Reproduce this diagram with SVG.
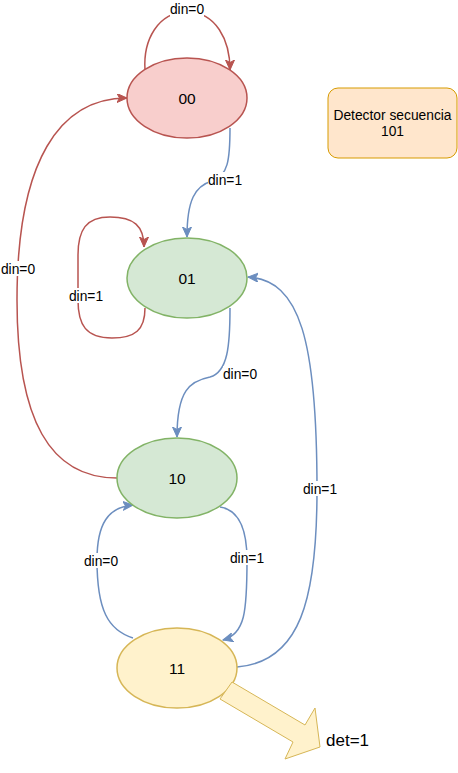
<svg xmlns="http://www.w3.org/2000/svg" width="458" height="773" viewBox="0 0 458 773">
<defs>
<style>
.e{fill:none;stroke-width:1.5}
.red{stroke:#b85450}
.blue{stroke:#6c8ebf}
.lbl{font-family:"Liberation Sans",Arial,sans-serif;font-size:13.8px;fill:#000;text-anchor:middle}
.nl{font-family:"Liberation Sans",Arial,sans-serif;font-size:15.5px;fill:#000;text-anchor:middle}
.bg{fill:#fff}
</style>
<marker id="ar" markerUnits="userSpaceOnUse" markerWidth="12" markerHeight="12" refX="10" refY="4.5" orient="auto"><path d="M0,0 L10,4.5 L0,9 L2.5,4.5 Z" fill="#b85450" stroke="#b85450" stroke-width="1"/></marker>
<marker id="ab" markerUnits="userSpaceOnUse" markerWidth="12" markerHeight="12" refX="10" refY="4.5" orient="auto"><path d="M0,0 L10,4.5 L0,9 L2.5,4.5 Z" fill="#6c8ebf" stroke="#6c8ebf" stroke-width="1"/></marker>
</defs>
<rect width="458" height="773" fill="#fff"/>
<g id="connectors">
<path class="e red" marker-end="url(#ar)" d="M145,70 C143,40 158,12 187,12 C216,12 230,40 230,70"/>
<path class="e blue" marker-end="url(#ab)" d="M230,128 C230,160 228,176 212,181 C195,186 187,200 187,237"/>
<path class="e red" marker-end="url(#ar)" d="M145,308 C145,330 135,338 112,338 C86,338 78,325 78,300 L78,255 C78,230 86,217 110,217 C134,217 144,226 144,247"/>
<path class="e red" marker-end="url(#ar)" d="M117,478 C50,478 17,420 17,300 C17,160 60,98 127,98"/>
<path class="e blue" marker-end="url(#ab)" d="M230,308 C230,345 228,372 210,377 C190,381 177,390 177,437"/>
<path class="e blue" marker-end="url(#ab)" d="M220,507 C240,510 247,530 247,560 C247,612 245,634 223,640"/>
<path class="e blue" marker-end="url(#ab)" d="M133,638 C108,630 97,610 97,560 C97,524 108,507 133,505"/>
<path class="e blue" marker-end="url(#ab)" d="M237,667 C300,662 317,600 317,490 C317,340 300,280 248,277"/>
</g>
<g id="labels">
<rect class="bg" x="170" y="2" width="34" height="15"/><text class="lbl" x="187" y="14">din=0</text>
<rect class="bg" x="208" y="172" width="34" height="15"/><text class="lbl" x="225" y="185">din=1</text>
<rect class="bg" x="69" y="288" width="34" height="15"/><text class="lbl" x="86" y="301">din=1</text>
<rect class="bg" x="1" y="261" width="34" height="15"/><text class="lbl" x="18" y="274">din=0</text>
<rect class="bg" x="223" y="366" width="34" height="15"/><text class="lbl" x="240" y="379">din=0</text>
<rect class="bg" x="84" y="553" width="34" height="15"/><text class="lbl" x="101" y="566">din=0</text>
<rect class="bg" x="230" y="550" width="34" height="15"/><text class="lbl" x="247" y="563">din=1</text>
<rect class="bg" x="303" y="481" width="34" height="15"/><text class="lbl" x="320" y="494">din=1</text>
</g>
<g id="n00"><ellipse cx="187" cy="98" rx="60" ry="40" fill="#f8cecc" stroke="#b85450" stroke-width="1.5"/><text class="nl" x="187" y="104">00</text></g>
<g id="n01"><ellipse cx="187" cy="278" rx="60" ry="40" fill="#d5e8d4" stroke="#82b366" stroke-width="1.5"/><text class="nl" x="187" y="284">01</text></g>
<g id="n10"><ellipse cx="177" cy="478" rx="60" ry="40" fill="#d5e8d4" stroke="#82b366" stroke-width="1.5"/><text class="nl" x="177" y="484">10</text></g>
<g id="n11"><ellipse cx="177" cy="668" rx="60" ry="40" fill="#fff2cc" stroke="#d6b656" stroke-width="1.5"/><text class="nl" x="177" y="674">11</text></g>
<g id="title"><rect x="328" y="88" width="129" height="70" rx="10" fill="#ffe6cc" stroke="#d79b00" stroke-width="1"/><text class="lbl" x="392.5" y="120">Detector secuencia</text><text class="lbl" x="392.5" y="136">101</text></g>
<g id="output"><polygon points="232,682 305,725 315,708 320,747 285,759 293,742 220,699" fill="#fff2cc" stroke="#d6b656" stroke-width="1"/><text x="326" y="746" font-family="Liberation Sans, Arial, sans-serif" font-size="17" fill="#000">det=1</text></g>
</svg>
